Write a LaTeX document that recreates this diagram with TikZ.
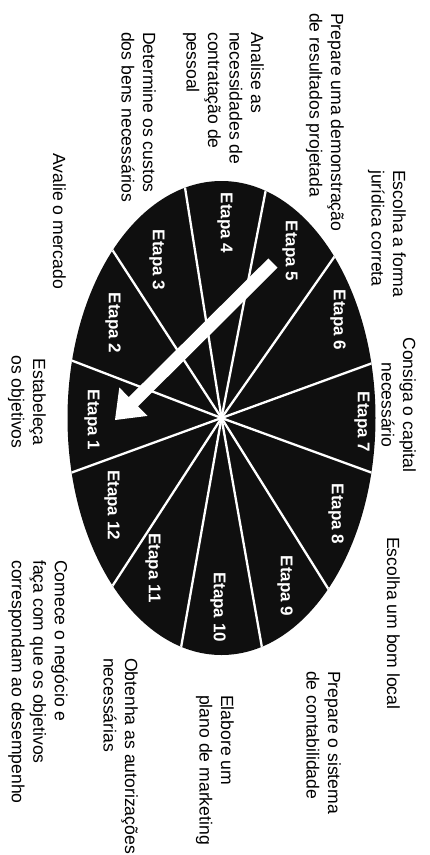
\documentclass[tikz,border=0pt]{standalone}
\usepackage{fontspec}
\setmainfont{Liberation Sans}
\begin{document}
\begin{tikzpicture}[x=1pt,y=-1pt,
  lbl/.style={rotate=-90, font=\fontsize{17.6}{21.5}\selectfont, inner sep=0pt, align=left, anchor=north west},
  lblc/.style={lbl, align=center, anchor=north},
  etapa/.style={rotate=-90, font=\fontsize{17}{20}\selectfont\bfseries, text=white, inner sep=0pt},
  spoke/.style={white, line width=2.3pt}]
\useasboundingbox[fill=white] (0,0) rectangle (430,855);
\coordinate (hub) at (221.5,418);
\fill[black!94] (hub) ellipse [x radius=154pt, y radius=237pt];
\begin{scope}
  \clip (hub) ellipse [x radius=154pt, y radius=237pt];
  \foreach \a in {20,55,79,99,123,159,200,237,260,280,302,340}
    \draw[spoke] (hub) -- ++(\a:300pt);
\end{scope}
% arrow
\fill[white] (277.6,267.6) -- (138.0,406.3) -- (147.5,415.9) -- (115,420)
  -- (119.3,387.5) -- (128.8,397.1) -- (268.4,258.4) -- cycle;
% step labels
\node[etapa] (e1) at (92,420) {Etapa 1};
\node[etapa] (e2) at (113,323) {Etapa 2};
\node[etapa] (e3) at (157,260) {Etapa 3};
\node[etapa] (e4) at (225,223) {Etapa 4};
\node[etapa] (e5) at (290,251) {Etapa 5};
\node[etapa] (e6) at (338,320) {Etapa 6};
\node[etapa] (e7) at (362,422) {Etapa 7};
\node[etapa] (e8) at (336,514) {Etapa 8};
\node[etapa] (e9) at (285,586) {Etapa 9};
\node[etapa] (e10) at (218,607) {Etapa 10};
\node[etapa] (e11) at (153,568) {Etapa 11};
\node[etapa] (e12) at (112,505) {Etapa 12};
% outer texts
\node[lbl] (tA) at (344,13) {Prepare uma demonstração\\de resultados projetada};
\node[lbl] (tB) at (264,32) {Analise as\\necessidades de\\contratação de\\pessoal};
\node[lbl] (tC) at (156,32) {Determine os custos\\dos bens necessários};
\node[lbl] (tD) at (66,153) {Avalie o mercado};
\node[lbl] (tE) at (406,170) {Escolha a forma\\jurídica correta};
\node[lblc] (tF) at (416,405) {Consiga o capital\\necessário};
\node[lbl] (tG) at (400,537) {Escolha um bom local};
\node[lbl] (tH) at (341,671) {Prepare o sistema\\de contabilidade};
\node[lbl] (tI) at (234,695) {Elabore um\\plano de marketing};
\node[lbl] (tJ) at (138,658) {Obtenha as autorizações\\necessárias};
\node[lbl] (tK) at (68,560) {Comece o negócio e\\faça com que os objetivos\\correspondam ao desempenho};
\node[lblc] (tL) at (46,402) {Estabeleça\\os objetivos};
\end{tikzpicture}
\end{document}
